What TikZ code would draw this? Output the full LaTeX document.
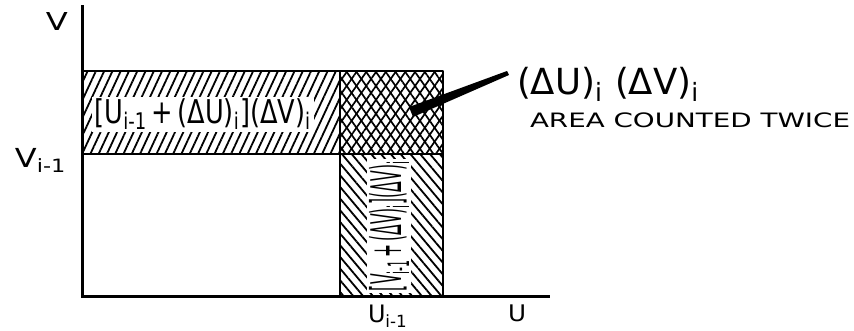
\documentclass[tikz,border=0pt]{standalone}
\usepackage{fontspec}
\setmainfont{DejaVu Sans}
\usetikzlibrary{patterns.meta,calc}
\newcommand{\sbs}[1]{\textsubscript{#1}}
\newcommand{\fitbox}[3]{\resizebox*{#1}{#2}{#3}}
\begin{document}
\begin{tikzpicture}[x=1pt,y=-1pt,line join=round]
\tikzset{
  box/.style={draw=black,line width=2.6pt},
  axis/.style={draw=black,line width=3pt},
  hatchA/.style={pattern={Lines[angle=65,distance=7.5pt,line width=1.8pt]}},
  hatchB/.style={pattern={Lines[angle=-50,distance=7.5pt,line width=1.8pt]}},
  hatchC/.style={pattern={Lines[angle=55,distance=8pt,line width=1.7pt]}},
  hatchD/.style={pattern={Lines[angle=-55,distance=8pt,line width=1.7pt]}},
  lbl/.style={inner sep=0pt,outer sep=0pt},
  wlbl/.style={lbl,fill=white,inner sep=2pt}
}
\useasboundingbox[fill=white] (0,0) rectangle (854,330);
% regions
\path[hatchA] (83,71) rectangle (340,154);
\path[hatchC] (340,71) rectangle (443,154);
\path[hatchD] (340,71) rectangle (443,154);
\path[hatchB] (340,154) rectangle (443,296);
\draw[box] (83,71) rectangle (443,154);
\draw[box] (340,71) -- (340,296);
\draw[box] (443,154) -- (443,296);
% axes
\draw[axis] (82,5) -- (82,297);
\draw[axis] (81,296) -- (550,296);
% axis labels
\node[lbl] (lv) at (57,21) {\fitbox{22pt}{18pt}{V}};
\node[lbl] (lvi) at (41,160) {\fitbox{52pt}{24pt}{V\sbs{i-1}}};
\node[lbl] (lui) at (388,316) {\fitbox{40pt}{22pt}{U\sbs{i-1}}};
\node[lbl] (lu) at (517,313) {\fitbox{18pt}{17pt}{U}};
% area labels
\node[wlbl] (band) at (203,114) {\fitbox{217pt}{31pt}{[U\sbs{i-1}\,+\,(ΔU)\sbs{i}](ΔV)\sbs{i}}};
\node[wlbl,rotate=90] (strip) at (389,226) {\fitbox{130pt}{40pt}{[V\sbs{i-1}\,+\,(ΔV)\sbs{i}](ΔV)\sbs{i}}};
% twice label
\node[lbl,anchor=west] (dd) at (517,84) {\fitbox{183pt}{34pt}{(ΔU)\sbs{i} (ΔV)\sbs{i}}};
\node[lbl,anchor=west] (tw) at (530,120) {\fitbox{320pt}{15pt}{AREA COUNTED TWICE}};
\coordinate (tip) at (411,112);
\coordinate (aend) at (508,73);
\fill ($(tip)+(-2,-5)$) -- ($(tip)+(2,5)$) -- ($(aend)+(1,2)$) -- ($(aend)+(-1,-2)$) -- cycle;
\end{tikzpicture}
\end{document}
